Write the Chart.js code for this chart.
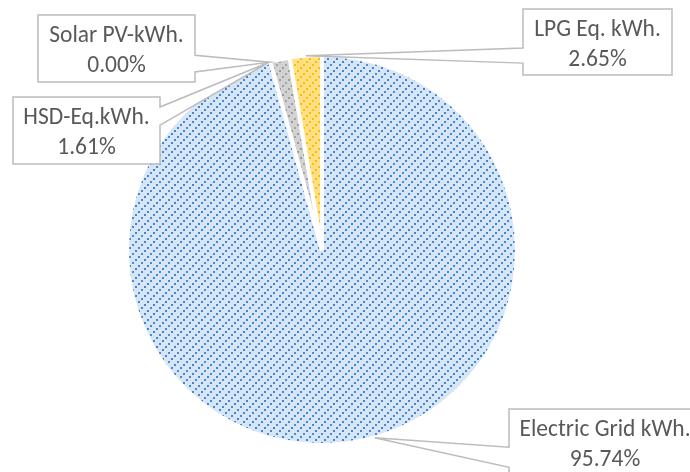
<!DOCTYPE html>
<html><head><meta charset="utf-8">
<script src="https://cdn.jsdelivr.net/npm/chart.js@4/dist/chart.umd.min.js"></script>
<style>html,body{margin:0;padding:0;background:#fff;}#wrap{width:690px;height:472px;position:relative;}</style>
</head><body><div id="wrap"><canvas id="c" width="690" height="472"></canvas></div>
<script>
// ---- data ----
const categories = ['Electric Grid kWh.', 'HSD-Eq.kWh.', 'Solar PV-kWh.', 'LPG Eq. kWh.'];
const shares = [95.74, 1.61, 0.00, 2.65];

// ---- styles / layout (not data) ----
function makePattern(bg, dot, dot2){
  const s=9, c=document.createElement('canvas'); c.width=s; c.height=s;
  const g=c.getContext('2d');
  g.fillStyle=bg; g.fillRect(0,0,s,s);
  g.fillStyle=dot; g.fillRect(0,7,2,2); g.fillRect(3,4,2,2);
  g.fillStyle=dot2; g.fillRect(6,1,2,2);
  return g.createPattern(c,'repeat');
}
const fills = [
  makePattern('#d6e6f7','#4385d4','#4a8bd6'),
  makePattern('#d2d2d2','#9c9c9c','#a5a5a5'),
  makePattern('#d2d2d2','#9c9c9c','#a5a5a5'),
  makePattern('#ffe085','#ffbb00','#ffc000')
];
// callout boxes: x,y,w,h, side of pointer, base fractions, tip angle offset (deg)
const callouts = [
  {x:509,y:409,w:192,h:67,side:'left', f1:0.57,f2:0.87,off:-8},
  {x:13, y:97, w:147,h:67,side:'right',f1:0.15,f2:0.42,off:-3.5},
  {x:38, y:15, w:157,h:67,side:'right',f1:0.60,f2:0.85,off:-6},
  {x:523,y:9,  w:149,h:66,side:'left', f1:0.59,f2:0.82,off:0}
];
const FONT = '23.5px Carlito, Calibri, Lato, sans-serif';

const calloutPlugin = {
  id:'callouts',
  afterDatasetsDraw(chart){
    const ctx=chart.ctx;
    const meta=chart.getDatasetMeta(0);
    ctx.save();
    meta.data.forEach((arc,i)=>{
      const p=arc.getProps(['x','y','startAngle','endAngle','outerRadius'],true);
      const b=callouts[i];
      const a=(p.startAngle+p.endAngle)/2 + b.off*Math.PI/180;
      const tx=p.x+p.outerRadius*Math.cos(a), ty=p.y+p.outerRadius*Math.sin(a);
      ctx.beginPath();
      const L=b.x,R=b.x+b.w,T=b.y,B=b.y+b.h;
      if(b.side==='left'){
        ctx.moveTo(L,T); ctx.lineTo(R,T); ctx.lineTo(R,B); ctx.lineTo(L,B);
        ctx.lineTo(L,T+b.h*b.f2); ctx.lineTo(tx,ty); ctx.lineTo(L,T+b.h*b.f1);
      } else {
        ctx.moveTo(R,T); ctx.lineTo(L,T); ctx.lineTo(L,B); ctx.lineTo(R,B);
        ctx.lineTo(R,T+b.h*b.f2); ctx.lineTo(tx,ty); ctx.lineTo(R,T+b.h*b.f1);
      }
      ctx.closePath();
      ctx.fillStyle='#ffffff'; ctx.fill();
      ctx.lineWidth=1.5; ctx.strokeStyle='#bcbcbc'; ctx.lineJoin='miter'; ctx.stroke();
      ctx.fillStyle='#595959'; ctx.font=FONT; ctx.textAlign='center'; ctx.textBaseline='middle';
      const cx=b.x+b.w/2;
      ctx.fillText(categories[i], cx, b.y+21);
      ctx.fillText(shares[i].toFixed(2)+'%', cx, b.y+51);
    });
    ctx.restore();
  }
};

new Chart(document.getElementById('c'),{
  type:'pie',
  data:{labels:categories,datasets:[{data:shares,backgroundColor:fills,borderColor:'#ffffff',borderWidth:4,hoverBorderWidth:4,hoverOffset:0}]},
  options:{
    responsive:false,animation:false,devicePixelRatio:1,
    layout:{padding:{left:125,right:171,top:53,bottom:25}},
    plugins:{legend:{display:false},tooltip:{enabled:false}},
    events:[]
  },
  plugins:[calloutPlugin]
});
</script></body></html>
